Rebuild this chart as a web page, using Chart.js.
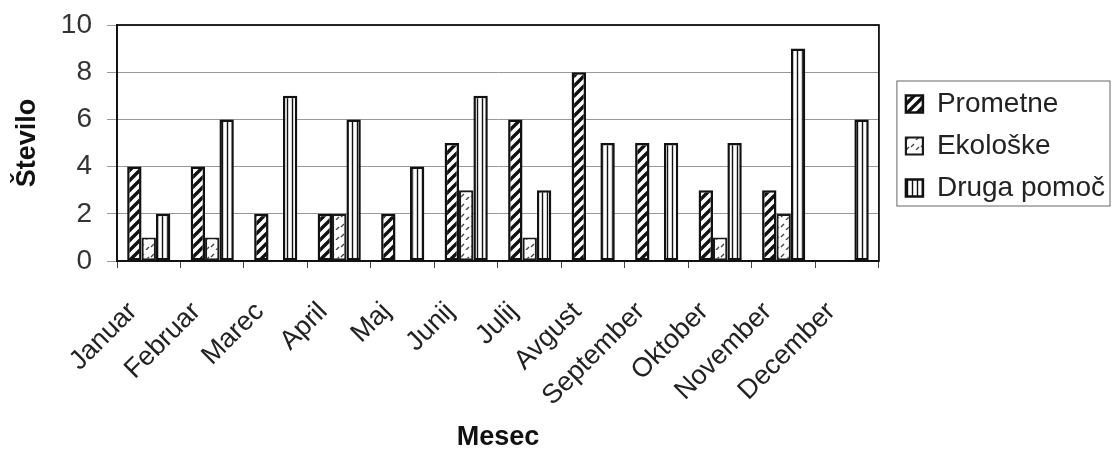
<!DOCTYPE html>
<html>
<head>
<meta charset="utf-8">
<script src="https://cdn.jsdelivr.net/npm/chart.js@4"></script>
<style>
  html, body { margin: 0; padding: 0; background: #fff; }
  #wrap { width: 1113px; height: 454px; }
</style>
</head>
<body>
<div id="wrap"><canvas id="c" width="1113" height="454"></canvas></div>
<script>
// podatki
const meseci = ['Januar', 'Februar', 'Marec', 'April', 'Maj', 'Junij', 'Julij', 'Avgust', 'September', 'Oktober', 'November', 'December'];
const prometne = [4, 4, 2, 2, 2, 5, 6, 8, 5, 3, 3, 0];
const ekoloske = [1, 1, 0, 2, 0, 3, 1, 0, 0, 1, 2, 0];
const drugaPomoc = [2, 6, 7, 6, 4, 7, 3, 5, 5, 5, 9, 6];
const yTicks = [0, 2, 4, 6, 8, 10];

const FONT = '"Liberation Sans", Arial, sans-serif';

// ========== vzorci polnil ==========
function makePattern(size, draw) {
    const cv = document.createElement('canvas');
    cv.width = size; cv.height = size;
    const g = cv.getContext('2d');
    g.fillStyle = '#fff';
    g.fillRect(0, 0, size, size);
    draw(g, size);
    return document.getElementById('c').getContext('2d').createPattern(cv, 'repeat');
}

const hatchPattern = makePattern(10, (g, s) => {
    g.strokeStyle = '#111';
    g.lineWidth = 3.4;
    g.beginPath();
    g.moveTo(-1, s + 1); g.lineTo(s + 1, -1);
    g.moveTo(-3, 3); g.lineTo(3, -3);
    g.moveTo(s - 3, s + 3); g.lineTo(s + 3, s - 3);
    g.stroke();
});

const dottedPattern = makePattern(10, (g, s) => {
    g.strokeStyle = '#444';
    g.lineWidth = 1.4;
    g.beginPath();
    g.moveTo(1, 7); g.lineTo(4, 4);
    g.moveTo(6, 10); g.lineTo(9, 7);
    g.stroke();
});

const verticalPattern = makePattern(5, (g, s) => {
    g.strokeStyle = '#111';
    g.lineWidth = 1.4;
    g.beginPath();
    g.moveTo(2.5, 0); g.lineTo(2.5, s);
    g.stroke();
});

// legendo premaknemo malo desno in navzdol, okvir okoli risalne površine in legende
const LEGEND_SHIFT_X = 13;
const LEGEND_SHIFT_Y = 3;
const framePlugin = {
    id: 'frame',
    afterLayout(chart) {
        chart.legend.left += LEGEND_SHIFT_X;
        chart.legend.right += LEGEND_SHIFT_X;
        chart.legend.top += LEGEND_SHIFT_Y;
        chart.legend.bottom += LEGEND_SHIFT_Y;
    },
    afterDraw(chart) {
        const ctx = chart.ctx;
        const a = chart.chartArea;
        ctx.save();
        ctx.strokeStyle = '#111';
        ctx.lineWidth = 1.8;
        ctx.strokeRect(a.left, a.top, a.right - a.left, a.bottom - a.top);
        const boxes = chart.legend.legendHitBoxes;
        if (boxes && boxes.length) {
            const top = boxes[0].top - 9;
            const last = boxes[boxes.length - 1];
            const bottom = last.top + last.height + 4;
            const left = Math.min(...boxes.map(b => b.left)) - 9;
            ctx.strokeStyle = '#666';
            ctx.lineWidth = 1;
            ctx.strokeRect(left, top, 1110 - left, bottom - top);
        }
        ctx.restore();
    }
};

new Chart(document.getElementById('c'), {
    type: 'bar',
    data: {
        labels: meseci,
        datasets: [{
            label: 'Prometne',
            data: prometne,
            backgroundColor: hatchPattern,
            borderColor: '#111',
            borderWidth: 2.5
        }, {
            label: 'Ekološke',
            data: ekoloske,
            backgroundColor: dottedPattern,
            borderColor: '#1a1a1a',
            borderWidth: 2.2
        }, {
            label: 'Druga pomoč',
            data: drugaPomoc,
            backgroundColor: verticalPattern,
            borderColor: '#111',
            borderWidth: 2.5
        }]
    },
    options: {
        responsive: false,
        animation: false,
        devicePixelRatio: 1,
        layout: { padding: { top: 25, right: 11, left: 11, bottom: 0 } },
        datasets: {
            bar: { categoryPercentage: 0.68, barPercentage: 1.0, borderSkipped: false }
        },
        scales: {
            x: {
                afterFit(axis) { axis.height = 193; },
                grid: { drawOnChartArea: false, drawTicks: true, tickLength: 7, color: '#444', offset: true },
                border: { color: '#111', width: 1.8 },
                ticks: {
                    color: '#222',
                    font: { family: FONT, size: 27 },
                    maxRotation: 45, minRotation: 45,
                    padding: 28,
                    labelOffset: -16
                },
                title: {
                    display: true, text: 'Mesec', color: '#111',
                    font: { family: FONT, size: 27, weight: 'bold' },
                    padding: { top: 10, bottom: 0 }
                }
            },
            y: {
                min: 0, max: 10,
                afterFit(axis) { axis.width = 106; axis.paddingTop = 0; },
                afterBuildTicks(axis) { axis.ticks = yTicks.map(v => ({ value: v })); },
                grid: { color: '#999', lineWidth: 1, tickLength: 10 },
                border: { color: '#111', width: 1.8 },
                ticks: {
                    color: '#333',
                    font: { family: FONT, size: 28 },
                    padding: 15
                },
                title: {
                    display: true, text: 'Število', color: '#111',
                    font: { family: FONT, size: 27, weight: 'bold' },
                    padding: { top: 0, bottom: 6 }
                }
            }
        },
        plugins: {
            legend: {
                position: 'right',
                align: 'center',
                fullSize: false,
                labels: {
                    color: '#222',
                    font: { family: FONT, size: 28 },
                    boxWidth: 17, boxHeight: 17,
                    padding: 14
                }
            },
            tooltip: { enabled: false }
        }
    },
    plugins: [framePlugin]
});
</script>
</body>
</html>
